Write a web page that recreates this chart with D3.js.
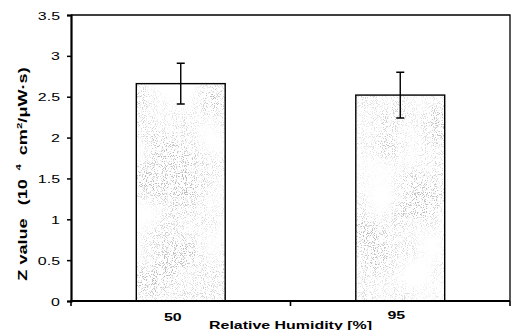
<!DOCTYPE html>
<html>
<head>
<meta charset="utf-8">
<script src="https://cdn.jsdelivr.net/npm/d3@7"></script>
<style>
  body { margin: 0; background: #fff; }
  svg { display: block; font-family: "Liberation Sans", Arial, sans-serif; }
</style>
</head>
<body>
<svg id="chart" width="512" height="330"></svg>
<script>
const humidity = ["50", "95"]
const zValue = [2.66, 2.52]
const zErr = [0.25, 0.28]
const yTicks = [0, 0.5, 1, 1.5, 2, 2.5, 3, 3.5]
const labelShift = [-8, -4]
const labelDrop = [0, -2]

const W = 512, H = 330
const m = {top: 15, right: 2, bottom: 29, left: 71}
const wide = 1.45

const svg = d3.select("#chart")

// speckled grey fill like the scanned original
const defs = svg.append("defs")
const f = defs.append("filter").attr("id", "speckle")
	.attr("x", 0).attr("y", 0).attr("width", 1).attr("height", 1)
f.append("feTurbulence").attr("type", "fractalNoise").attr("baseFrequency", 1.1)
	.attr("numOctaves", 1).attr("seed", 4).attr("result", "fine")
f.append("feColorMatrix").attr("in", "fine").attr("type", "matrix")
	.attr("values", "0 0 0 0 0.5  0 0 0 0 0.5  0 0 0 0 0.5  8 0 0 0 -4.25").attr("result", "dots")
f.append("feTurbulence").attr("type", "fractalNoise").attr("baseFrequency", 0.02)
	.attr("numOctaves", 2).attr("seed", 9).attr("result", "coarse")
f.append("feColorMatrix").attr("in", "coarse").attr("type", "matrix")
	.attr("values", "0 0 0 0 0  0 0 0 0 0  0 0 0 0 0  2.2 0 0 0 -0.55").attr("result", "mask")
f.append("feComposite").attr("in", "dots").attr("in2", "mask").attr("operator", "in").attr("result", "spk")
f.append("feComposite").attr("in", "spk").attr("in2", "SourceGraphic").attr("operator", "in")

const x = d3.scaleBand()
	.domain(humidity)
	.range([m.left, W - m.right])
	.paddingInner(0.595)
	.paddingOuter(0.2975)

const y = d3.scaleLinear()
	.domain([0, 3.5])
	.range([H - m.bottom, m.top])

// frame top + right
svg.append("path")
	.attr("d", `M${m.left},${y(3.5)}H${W - m.right}V${y(0)}`)
	.attr("fill", "none").attr("stroke", "#000").attr("stroke-width", 1.3)

// bars
const g = svg.append("g")
const bars = g.selectAll("g.bar").data(humidity).join("g").attr("class", "bar")
bars.append("rect")
	.attr("x", d => x(d)).attr("width", x.bandwidth())
	.attr("y", (d, i) => y(zValue[i])).attr("height", (d, i) => y(0) - y(zValue[i]))
	.attr("fill", "#fff")
bars.append("rect")
	.attr("x", d => x(d)).attr("width", x.bandwidth())
	.attr("y", (d, i) => y(zValue[i])).attr("height", (d, i) => y(0) - y(zValue[i]))
	.attr("fill", "#000").attr("filter", "url(#speckle)")
bars.append("rect")
	.attr("x", d => x(d)).attr("width", x.bandwidth())
	.attr("y", (d, i) => y(zValue[i])).attr("height", (d, i) => y(0) - y(zValue[i]))
	.attr("fill", "none").attr("stroke", "#000").attr("stroke-width", 1.4)

// error bars
const cx = d => x(d) + x.bandwidth() / 2
bars.append("path")
	.attr("d", (d, i) => {
		const lo = y(zValue[i] - zErr[i]), hi = y(zValue[i] + zErr[i])
		return `M${cx(d)},${lo}V${hi}M${cx(d) - 4},${hi}H${cx(d) + 4}M${cx(d) - 4},${lo}H${cx(d) + 4}`
	})
	.attr("fill", "none").attr("stroke", "#000").attr("stroke-width", 1.4)

// y axis
const ya = svg.append("g")
	.attr("transform", `translate(${m.left},0)`)
	.call(d3.axisLeft(y).tickValues(yTicks).tickFormat(d3.format("")).tickSize(4).tickPadding(0))
ya.select(".domain").attr("stroke-width", 2.2)
ya.selectAll(".tick line").attr("stroke-width", 1.5)
ya.selectAll(".tick text")
	.attr("x", null).attr("dy", null)
	.attr("transform", `translate(-11,4) scale(${wide},1)`)
	.attr("font-size", 11).attr("fill", "#000")

// x axis line with ticks at the band edges
const xa = svg.append("g")
xa.append("path")
	.attr("d", `M${m.left - 1},${y(0)}H${W - m.right}`)
	.attr("stroke", "#000").attr("stroke-width", 2.2)
const edges = [m.left, (m.left + W - m.right) / 2, W - m.right]
xa.selectAll("line").data(edges).join("line")
	.attr("x1", d => d).attr("x2", d => d)
	.attr("y1", y(0)).attr("y2", y(0) + 5)
	.attr("stroke", "#000").attr("stroke-width", 1.6)

svg.append("g").selectAll("text").data(humidity).join("text")
	.attr("transform", (d, i) => `translate(${cx(d) + labelShift[i]},${321 + labelDrop[i]}) scale(${wide},1)`)
	.attr("text-anchor", "middle").attr("font-size", 11).attr("font-weight", "bold")
	.text(d => d)

svg.append("text")
	.attr("transform", `translate(${(m.left + W - m.right) / 2},329) scale(${wide},1)`)
	.attr("text-anchor", "middle").attr("font-size", 11).attr("font-weight", "bold")
	.text("Relative Humidity [%]")

// y title
const yt = svg.append("text")
	.attr("transform", `translate(27,${(m.top + y(0)) / 2 + 16}) rotate(-90) scale(${wide},1)`)
	.attr("text-anchor", "middle").attr("font-size", 12.5).attr("font-weight", "bold")
yt.append("tspan").text("Z value")
yt.append("tspan").attr("dx", 9).text("(10")
yt.append("tspan").attr("dx", 6).attr("dy", -6).attr("font-size", 8).text("4")
yt.append("tspan").attr("dx", 6).attr("dy", 6).text("cm")
yt.append("tspan").attr("dy", -5).attr("font-size", 8).text("2")
yt.append("tspan").attr("dy", 5).text("/μW·s)")
</script>
</body>
</html>
